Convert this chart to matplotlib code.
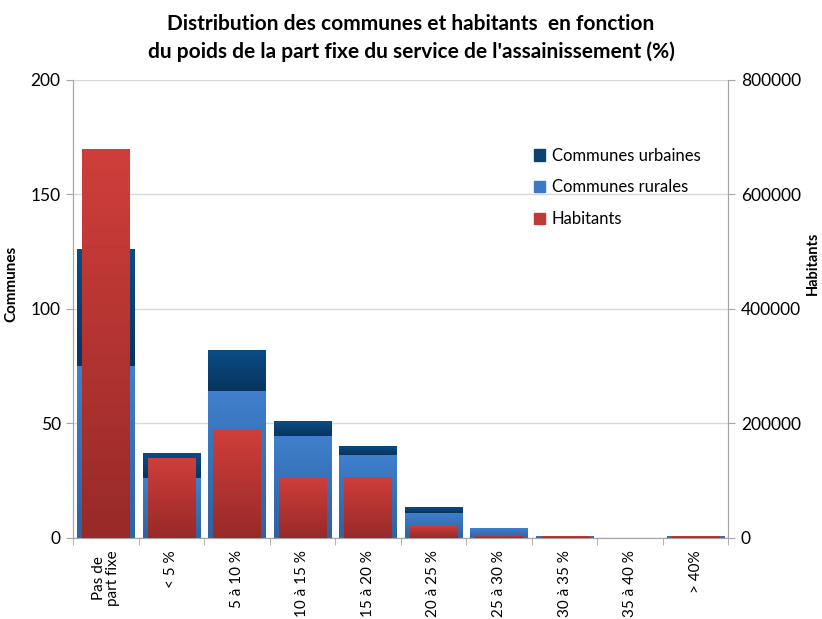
import numpy as np
import matplotlib
matplotlib.use("Agg")
import matplotlib.pyplot as plt
from matplotlib.patches import Patch
from matplotlib.colors import LinearSegmentedColormap

plt.rcParams['font.family'] = ['Lato', 'DejaVu Sans']

# Data
categories = ["Pas de\npart fixe", "< 5 %", "5 à 10 %", "10 à 15 %", "15 à 20 %",
              "20 à 25 %", "25 à 30 %", "30 à 35 %", "35 à 40 %", "> 40%"]
rurales = [75, 26, 64, 44.5, 36, 11, 4.3, 1, 0, 1]
urbaines = [51, 11, 18, 6.5, 4, 2.5, 0, 0, 0, 0]
habitants = [680000, 140000, 190000, 106000, 106000, 21000, 5000, 2500, 0, 2500]

x = np.arange(len(categories))


def gradient_bars(ax, bars, top_color, bottom_color):
    # Excel-like vertical gradient inside each bar
    cmap = LinearSegmentedColormap.from_list("g", [bottom_color, top_color])
    grad = np.linspace(0, 1, 64).reshape(-1, 1)
    for b in bars:
        if b.get_height() <= 0:
            continue
        x0, y0 = b.get_x(), b.get_y()
        w, h = b.get_width(), b.get_height()
        im = ax.imshow(grad, cmap=cmap, origin="lower", aspect="auto",
                       extent=(x0, x0 + w, y0, y0 + h), zorder=b.get_zorder())
        im.set_clip_path(b)
        b.set_facecolor("none")


fig = plt.figure(figsize=(8.22, 6.19), dpi=100)
ax = fig.add_axes([0.089, 0.131, 0.797, 0.740])
ax2 = ax.twinx()

b_rur = ax.bar(x, rurales, width=0.88, color="#3c78c6", zorder=2, linewidth=0)
b_urb = ax.bar(x, urbaines, width=0.88, bottom=rurales, color="#0b426f", zorder=2, linewidth=0)
b_hab = ax2.bar(x, habitants, width=0.72, color="#c13a36", zorder=3, linewidth=0)

gradient_bars(ax, b_rur, "#3f7fcc", "#2f62a0")
gradient_bars(ax, b_urb, "#0b4c86", "#07355e")
gradient_bars(ax2, b_hab, "#cf3e3b", "#982a28")

ax.set_xlim(-0.5, len(categories) - 0.5)
ax.set_ylim(0, 200)
ax2.set_ylim(0, 800000)
ax.set_yticks([0, 50, 100, 150, 200])
ax2.set_yticks([0, 200000, 400000, 600000, 800000])
ax.yaxis.grid(True, color="#d9d9d9", linewidth=1, zorder=0)
ax.set_axisbelow(True)

ax.set_xticks(x)
ax.set_xticklabels(categories, rotation=90, fontsize=11, va="top", linespacing=1.0)
ax.tick_params(axis="x", which="major", length=0, pad=9)
ax.set_xticks(np.arange(-0.5, len(categories)), minor=True)
ax.tick_params(axis="x", which="minor", length=5, color="#a6a6a6")

ax.tick_params(axis="y", labelsize=12.5, length=5, color="#a6a6a6", pad=4)
ax2.tick_params(axis="y", labelsize=12.5, length=5, color="#a6a6a6", pad=4)

for a in (ax, ax2):
    a.spines["top"].set_visible(False)
    a.spines["left"].set_color("#a6a6a6")
    a.spines["right"].set_color("#a6a6a6")
    a.spines["bottom"].set_color("#a6a6a6")

ax.set_ylabel("Communes", fontsize=11, fontweight="bold")
ax.yaxis.set_label_coords(-0.084, 0.555)
ax2.set_ylabel("Habitants", fontsize=10.5, fontweight="bold", rotation=90)
ax2.yaxis.set_label_coords(1.119, 0.60)

fig.suptitle("Distribution des communes et habitants  en fonction\n"
             "du poids de la part fixe du service de l'assainissement (%)",
             fontsize=15, fontweight="bold", y=0.978, linespacing=1.45)

handles = [Patch(color="#0b426f"), Patch(color="#3c78c6"), Patch(color="#c13a36")]
ax2.legend(handles, ["Communes urbaines", "Communes rurales", "Habitants"],
           loc="upper left", bbox_to_anchor=(0.68, 0.885), frameon=False,
           fontsize=12, handlelength=0.7, handleheight=0.7, handletextpad=0.4,
           labelspacing=0.95)

fig.savefig("out.png", dpi=100)
